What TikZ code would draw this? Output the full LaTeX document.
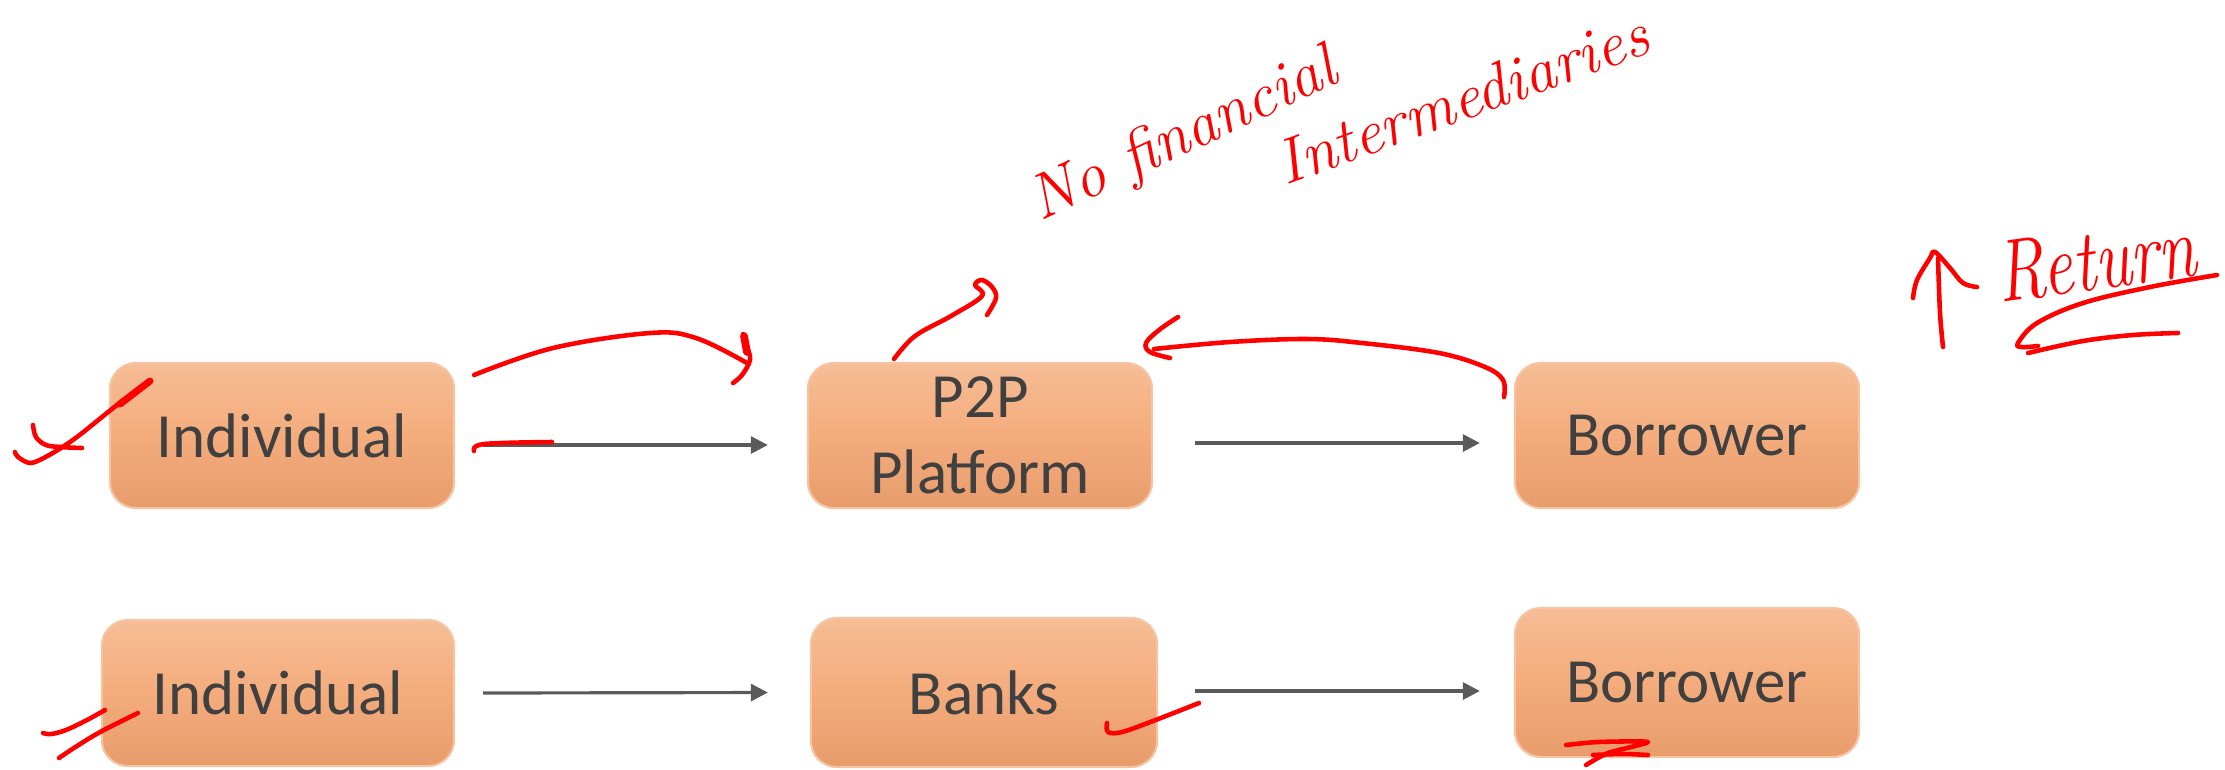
\documentclass[tikz,border=0pt]{standalone}
\usepackage{fontspec}
\newfontfamily\boxfont{Carlito}
\usetikzlibrary{arrows.meta,calc}
\definecolor{boxtop}{RGB}{246,189,150}
\definecolor{boxmid}{RGB}{244,172,124}
\definecolor{boxbot}{RGB}{232,156,108}
\definecolor{boxedge}{RGB}{246,196,162}
\definecolor{labelgray}{RGB}{64,64,64}
\definecolor{flowgray}{RGB}{90,90,90}
\definecolor{ink}{RGB}{255,0,0}
\tikzset{
  stage/.style={rounded corners=0.26cm, draw=boxedge, line width=0.6pt,
    top color=boxtop, bottom color=boxbot, middle color=boxmid,
    minimum width=3.44cm, minimum height=1.45cm, inner sep=0pt,
    align=center, text=labelgray,
    font=\boxfont\fontsize{17.9}{21.6}\selectfont},
  flow/.style={draw=flowgray, line width=0.9pt,
    -{Triangle[length=0.17cm,width=0.17cm]}},
  pen/.style={draw=ink, line width=1.3pt, line cap=round, line join=round},
  handtext/.style={text=ink, inner sep=0pt, anchor=base west,
    font=\itshape\fontsize{18}{20}\selectfont}
}
\begin{document}
\begin{tikzpicture}[x=0.01cm,y=-0.01cm]
\useasboundingbox (0,0) rectangle (2225,769);

% upper row: lending through a P2P platform
\node[stage] (ind1) at (282,435.5) {Individual};
\node[stage] (p2p) at (980,435.5) {P2P\\Platform};
\node[stage] (bor1) at (1687,435.5) {Borrower};

% lower row: lending through banks
\node[stage, minimum width=3.52cm, minimum height=1.46cm] (ind2) at (278,693) {Individual};
\node[stage, minimum width=3.46cm, minimum height=1.49cm] (banks) at (984,692.5) {Banks};
\node[stage, minimum height=1.49cm] (bor2) at (1687,682.5) {Borrower};

% flows of money
\draw[flow] ($(ind1.east)+(28,9.5)$) -- ($(p2p.west)+(-39,9.5)$);
\draw[flow] ($(p2p.east)+(42,7.5)$) -- ($(bor1.west)+(-34,7.5)$);
\draw[flow] ($(ind2.east)+(28,0)$) -- ($(banks.west)+(-42,0)$);
\draw[flow] ($(banks.east)+(37,-1.5)$) -- ($(bor2.west)+(-34,8.5)$);

% ink notes: lender to platform
\draw[pen] plot[smooth, tension=0.6] coordinates {(474,375)(553,348)(650,333)(696,338)(747,363)};
\draw[pen] plot[smooth, tension=0.6] coordinates {(743,334)(747,347)(750,360)(742,375)(733,383)};
\draw[pen, line width=2.2pt] (744,336) -- (747,352);
\draw[pen] plot[smooth, tension=0.6] coordinates {(474,451)(484,444)(552,442)};

% ink notes: pointer above the platform
\draw[pen] plot[smooth, tension=0.6] coordinates {(894,359)(915,336)(951,316)(982,296)(975,285)(982,280)(992,287)(996,298)(987,315)};

% ink notes: return from borrower back to platform
\draw[pen] plot[smooth, tension=0.6] coordinates {(1504,397)(1503,380)(1485,367)(1439,353)(1362,343)(1307,339)(1230,342)(1154,349)};
\draw[pen] plot[smooth, tension=0.6] coordinates {(1178,317)(1159,330)(1146,343)(1150,352)(1170,358)};

% ink notes: tick beside the first lender
\draw[pen] plot[smooth, tension=0.5] coordinates {(150,381)(117,405)(77,437)(51,454)(31,463)(18,457)(15,452)};
\draw[pen, line width=2pt] (150,381) -- (120,404);
\draw[pen] plot[smooth, tension=0.6] coordinates {(33,425)(36,437)(46,445)(61,447)(82,448)};

% ink notes: slashes beside the second lender
\draw[pen] plot[smooth, tension=0.6] coordinates {(105,710)(87,720)(66,730)(51,734)(43,733)};
\draw[pen] plot[smooth, tension=0.6] coordinates {(138,713)(102,731)(77,746)(59,758)};

% ink notes: tick under the banks
\draw[pen] plot[smooth, tension=0.6] coordinates {(1107,723)(1108,732)(1122,732)(1153,721)(1199,703)};

% ink notes: mark under the lower borrower
\draw[pen] plot[smooth, tension=0.4] coordinates {(1566,745)(1598,742)(1648,742)(1608,753)(1586,765)};
\draw[pen] plot[smooth, tension=0.6] coordinates {(1593,755)(1623,754)(1648,755)};

% ink notes: rising return
\draw[pen] plot[smooth, tension=0.6] coordinates {(1938,258)(1940,313)(1943,347)};
\draw[pen] plot[smooth, tension=0.6] coordinates {(1913,298)(1917,280)(1930,258)(1935,252)(1950,268)(1963,283)(1977,287)};
\node[handtext, rotate=8, xscale=0.78, transform shape, font=\itshape\fontsize{25}{25}\selectfont] (ret) at (2000,303) {Return};
\draw[pen] plot[smooth, tension=0.6] coordinates {(2217,275)(2150,287)(2083,303)(2037,323)(2018,343)(2022,347)(2038,346)};
\draw[pen] plot[smooth, tension=0.6] coordinates {(2028,353)(2083,341)(2133,335)(2178,333)};

% ink notes: no financial intermediaries
\node[handtext, rotate=25] (nofin) at (1040,222) {No financial};
\node[handtext, rotate=20] (inter) at (1285,186) {Intermediaries};
\end{tikzpicture}
\end{document}
